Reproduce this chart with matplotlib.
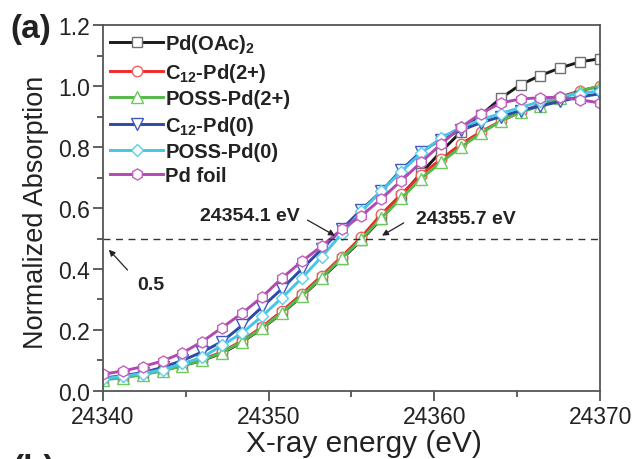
import matplotlib
matplotlib.use('Agg')
import matplotlib.pyplot as plt

plt.rcParams['font.family'] = ['Liberation Sans', 'DejaVu Sans']
plt.rcParams['mathtext.fontset'] = 'custom'
plt.rcParams['mathtext.rm'] = 'Liberation Sans'
plt.rcParams['mathtext.bf'] = 'Liberation Sans:bold'

# energy grid (eV)
energy = [24340.0, 24341.2, 24342.4, 24343.6, 24344.8, 24346.0, 24347.2, 24348.4,
          24349.6, 24350.8, 24352.0, 24353.2, 24354.4, 24355.6, 24356.8, 24358.0,
          24359.2, 24360.4, 24361.6, 24362.8, 24364.0, 24365.2, 24366.4, 24367.6,
          24368.8, 24370.0]

pd_oac2 = [0.040, 0.046, 0.055, 0.067, 0.083, 0.100, 0.124, 0.160, 0.205, 0.255,
           0.310, 0.370, 0.432, 0.495, 0.565, 0.640, 0.715, 0.785, 0.850, 0.905,
           0.960, 1.005, 1.035, 1.060, 1.080, 1.090]
c12_pd2 = [0.040, 0.047, 0.057, 0.069, 0.086, 0.103, 0.128, 0.165, 0.210, 0.262,
           0.318, 0.378, 0.440, 0.505, 0.580, 0.645, 0.710, 0.760, 0.810, 0.850,
           0.885, 0.915, 0.940, 0.965, 0.985, 1.000]
poss_pd2 = [0.036, 0.043, 0.053, 0.066, 0.083, 0.101, 0.126, 0.162, 0.206, 0.257,
            0.312, 0.372, 0.435, 0.497, 0.568, 0.632, 0.697, 0.750, 0.800, 0.845,
            0.885, 0.915, 0.935, 0.960, 0.985, 1.000]
c12_pd0 = [0.042, 0.050, 0.060, 0.077, 0.100, 0.128, 0.162, 0.215, 0.275, 0.335,
           0.400, 0.465, 0.530, 0.595, 0.655, 0.725, 0.785, 0.825, 0.855, 0.880,
           0.900, 0.920, 0.935, 0.950, 0.965, 0.975]
poss_pd0 = [0.040, 0.048, 0.057, 0.070, 0.090, 0.110, 0.150, 0.190, 0.245, 0.305,
            0.370, 0.440, 0.515, 0.590, 0.655, 0.720, 0.780, 0.830, 0.865, 0.890,
            0.910, 0.930, 0.950, 0.965, 0.975, 0.985]
pd_foil = [0.055, 0.065, 0.080, 0.098, 0.125, 0.162, 0.208, 0.255, 0.308, 0.370,
           0.425, 0.475, 0.530, 0.575, 0.630, 0.690, 0.750, 0.810, 0.865, 0.910,
           0.945, 0.958, 0.962, 0.964, 0.955, 0.945]

labels = [r'Pd(OAc)$_\mathbf{2}$', r'C$_\mathbf{12}$-Pd(2+)', 'POSS-Pd(2+)',
          r'C$_\mathbf{12}$-Pd(0)', 'POSS-Pd(0)', 'Pd foil']
series = [pd_oac2, c12_pd2, poss_pd2, c12_pd0, poss_pd0, pd_foil]
colors = ['#1a1a1a', '#ee2a2a', '#55b848', '#3048a8', '#48c4e4', '#b04ab0']
edges = ['#707070', '#f26060', '#70c860', '#4058c0', '#58d0ec', '#c060c0']
markers = ['s', 'o', '^', 'v', 'D', 'h']
msizes = [7, 7.5, 8, 8, 6.5, 8]

txt = '#222222'

fig = plt.figure(figsize=(6.35, 4.6), dpi=100)
ax = fig.add_axes([0.162, 0.148, 0.783, 0.795])

for y, lab, c, ec, m, ms in zip(series, labels, colors, edges, markers, msizes):
    ax.plot(energy, y, color=c, lw=2.1, marker=m, ms=ms, mfc='white',
            mec=ec, mew=1.0, label=lab)

ax.axhline(0.5, color='#333333', lw=1.0, ls=(0, (5, 4)))

ax.set_xlim(24340, 24370)
ax.set_ylim(0, 1.2)
ax.set_xticks([24340, 24350, 24360, 24370])
ax.set_xticks([24345, 24355, 24365], minor=True)
ax.set_yticks([0.0, 0.2, 0.4, 0.6, 0.8, 1.0, 1.2])
ax.set_yticks([0.1, 0.3, 0.5, 0.7, 0.9, 1.1], minor=True)
ax.set_yticklabels(['0.0', '0.2', '0.4', '0.6', '0.8', '1.0', '1.2'])
ax.tick_params(which='major', direction='out', length=7, width=1.2,
               labelsize=16.5, colors='#444444', labelcolor=txt, pad=2)
ax.tick_params(axis='x', which='major', pad=3)
ax.tick_params(which='minor', direction='out', length=4, width=1.2,
               colors='#444444')
for s in ax.spines.values():
    s.set_color('#555555')
    s.set_linewidth(1.3)

ax.set_xlabel('X-ray energy (eV)', fontsize=21.5, color=txt)
ax.set_ylabel('Normalized Absorption', fontsize=19.5, color=txt)
ax.xaxis.set_label_coords(0.526, -0.104)
ax.yaxis.set_label_coords(-0.108, 0.49)

leg = ax.legend(loc='upper left', frameon=False, fontsize=14.5,
                handlelength=2.65, handletextpad=0.1, labelspacing=0.27,
                borderaxespad=0.0, borderpad=0.35, bbox_to_anchor=(0.0, 1.0))
for t in leg.get_texts():
    t.set_fontweight('bold')
    t.set_color(txt)

arrow = dict(arrowstyle='-|>', color='#222222', lw=0.9, mutation_scale=9)
ax.annotate('', xy=(24354.15, 0.505), xytext=(24352.2, 0.565), arrowprops=arrow)
ax.text(24351.9, 0.575, '24354.1 eV', ha='right', va='center', fontsize=14,
        fontweight='bold', color=txt)
ax.annotate('', xy=(24356.7, 0.505), xytext=(24358.3, 0.556), arrowprops=arrow)
ax.text(24358.9, 0.566, '24355.7 eV', ha='left', va='center', fontsize=14,
        fontweight='bold', color=txt)
ax.annotate('', xy=(24340.25, 0.47), xytext=(24341.6, 0.39), arrowprops=arrow)
ax.text(24342.1, 0.35, '0.5', ha='left', va='center', fontsize=14,
        fontweight='bold', color=txt)

fig.text(0.017, 0.935, '(a)', fontsize=24, fontweight='bold', color=txt,
         ha='left', va='center')
fig.text(0.02, 0.012, '(b)', fontsize=24, fontweight='bold', color=txt,
         ha='left', va='top')

fig.savefig('out.png', dpi=100)
